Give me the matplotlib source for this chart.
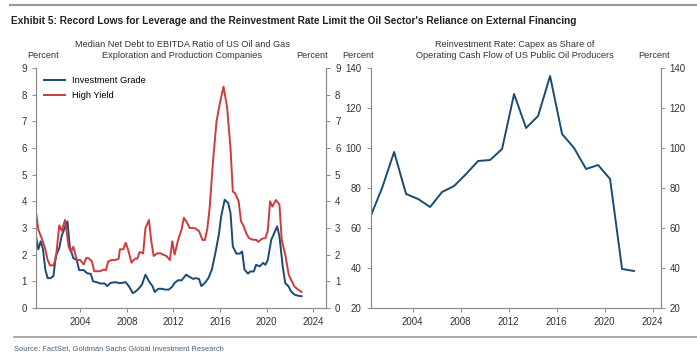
import numpy as np
import matplotlib
matplotlib.use("Agg")
import matplotlib.pyplot as plt
from matplotlib.lines import Line2D

plt.rcParams['font.family'] = ['Liberation Sans', 'DejaVu Sans']

# === data: left panel (quarterly) ===
lev_years = [2000.23, 2000.4, 2000.6, 2000.8, 2001.0, 2001.2, 2001.45, 2001.7, 2001.9,
             2002.2, 2002.4, 2002.7, 2002.9, 2003.1, 2003.4, 2003.7, 2003.9,
             2004.3, 2004.6, 2004.9, 2005.1, 2005.4, 2005.7, 2006.1, 2006.3, 2006.6,
             2007.0, 2007.3, 2007.6, 2007.9, 2008.2, 2008.5, 2008.7, 2009.0, 2009.3,
             2009.6, 2009.9, 2010.2, 2010.4, 2010.7, 2011.0, 2011.3, 2011.6, 2011.9,
             2012.1, 2012.4, 2012.7, 2013.1, 2013.4, 2013.7, 2013.9, 2014.2, 2014.4,
             2014.7, 2015.0, 2015.3, 2015.6, 2015.9, 2016.1, 2016.4, 2016.7, 2016.9,
             2017.1, 2017.4, 2017.7, 2017.9, 2018.1, 2018.4, 2018.6, 2018.9, 2019.1,
             2019.4, 2019.7, 2019.9, 2020.1, 2020.4, 2020.6, 2020.9, 2021.1, 2021.4,
             2021.6, 2021.9, 2022.1, 2022.4, 2022.7, 2023.0]
inv_grade = [2.62, 2.2, 2.5, 2.2, 1.44, 1.12, 1.12, 1.2, 1.95,
             2.25, 2.7, 3.05, 3.25, 2.3, 1.87, 1.8, 1.42,
             1.42, 1.3, 1.28, 1.0, 0.97, 0.92, 0.92, 0.82, 0.94,
             0.97, 0.94, 0.94, 0.97, 0.8, 0.56, 0.6, 0.72, 0.88,
             1.25, 1.0, 0.82, 0.6, 0.72, 0.72, 0.69, 0.69, 0.8,
             0.94, 1.04, 1.04, 1.25, 1.16, 1.09, 1.12, 1.09, 0.82,
             0.94, 1.12, 1.44, 2.06, 2.75, 3.44, 4.06, 3.94, 3.56,
             2.31, 2.04, 2.04, 2.12, 1.44, 1.29, 1.37, 1.37, 1.62,
             1.56, 1.69, 1.62, 1.8, 2.56, 2.75, 3.06, 2.7, 1.5,
             0.94, 0.8, 0.62, 0.5, 0.46, 0.44]

hy_years = [2000.23, 2000.4, 2000.7, 2001.0, 2001.2, 2001.4, 2001.7, 2001.9,
            2002.2, 2002.4, 2002.7, 2003.0, 2003.2, 2003.4, 2003.7, 2004.0,
            2004.3, 2004.5, 2004.7, 2005.0, 2005.2, 2005.5, 2005.7, 2006.0,
            2006.2, 2006.4, 2006.7, 2007.0, 2007.3, 2007.4, 2007.7, 2007.9,
            2008.1, 2008.4, 2008.7, 2008.9, 2009.1, 2009.4, 2009.6, 2009.9,
            2010.1, 2010.3, 2010.6, 2010.9, 2011.1, 2011.4, 2011.7, 2011.9,
            2012.1, 2012.4, 2012.7, 2012.9, 2013.1, 2013.4, 2013.7, 2013.9,
            2014.2, 2014.5, 2014.7, 2014.9, 2015.1, 2015.4, 2015.7, 2016.0,
            2016.3, 2016.6, 2016.9, 2017.1, 2017.3, 2017.6, 2017.8, 2018.0,
            2018.3, 2018.5, 2018.8, 2019.1, 2019.3, 2019.6, 2019.9, 2020.1,
            2020.3, 2020.5, 2020.8, 2021.1, 2021.3, 2021.6, 2021.9, 2022.1,
            2022.4, 2022.7, 2023.0]
high_yield = [3.5, 2.94, 2.6, 2.2, 1.8, 1.6, 1.6, 1.85,
              3.1, 2.9, 3.3, 2.3, 2.1, 2.3, 1.8, 1.8,
              1.63, 1.87, 1.87, 1.75, 1.38, 1.38, 1.38, 1.44,
              1.42, 1.75, 1.8, 1.8, 1.85, 2.2, 2.2, 2.45,
              2.2, 1.7, 1.85, 1.85, 2.1, 2.05, 3.0, 3.3,
              2.5, 1.95, 2.05, 2.05, 2.0, 1.95, 1.8, 2.5,
              2.0, 2.55, 2.95, 3.38, 3.25, 3.0, 3.0, 2.98,
              2.88, 2.55, 2.55, 2.95, 3.7, 5.5, 7.0, 7.7,
              8.3, 7.55, 6.0, 4.37, 4.3, 4.0, 3.25, 3.1,
              2.75, 2.62, 2.56, 2.56, 2.48, 2.6, 2.62, 2.9,
              4.0, 3.8, 4.05, 3.88, 2.55, 2.0, 1.25, 1.06,
              0.8, 0.69, 0.6]

# === data: right panel (annual) ===
reinv_years = [2000.5, 2001.45, 2002.45, 2003.45, 2004.45, 2005.45, 2006.45, 2007.45,
               2008.45, 2009.45, 2010.45, 2011.45, 2012.45, 2013.45, 2014.45, 2015.45,
               2016.45, 2017.45, 2018.45, 2019.45, 2020.45, 2021.45, 2022.45]
reinv_rate = [66, 80, 98, 77, 74.5, 70.5, 78, 81, 87, 93.5, 94, 99.5, 127, 110, 116,
              136, 107, 100, 89.5, 91.5, 84.5, 39.5, 38.5]

navy = '#1b4a72'
red = '#d03a3c'
grey = '#8c8c8c'
txt = '#333333'

fig = plt.figure(figsize=(6.97, 3.58), dpi=100)
W, H = 697, 358


def style(ax, twin):
    ax.spines['top'].set_visible(False)
    twin.spines['top'].set_visible(False)
    for a in (ax, twin):
        for s in ('left', 'right', 'bottom'):
            a.spines[s].set_color(grey)
            a.spines[s].set_linewidth(0.8)
        a.tick_params(axis='both', colors=grey, labelcolor=txt, labelsize=7,
                      length=3, width=0.7, direction='out')
    ax.set_xticks([2004, 2008, 2012, 2016, 2020, 2024])


# === left panel ===
ax1 = fig.add_axes([36 / W, 1 - 308 / H, 290 / W, 240 / H])
ax1.plot(lev_years, inv_grade, color=navy, lw=1.4, label='Investment Grade')
ax1.plot(hy_years, high_yield, color=red, lw=1.4, label='High Yield')
ax1.set_xlim(2000.2, 2025.1)
ax1.set_ylim(0, 9)
ax1.set_yticks(range(0, 10))
t1 = ax1.twinx()
t1.set_ylim(0, 9)
t1.set_yticks(range(0, 10))
style(ax1, t1)
ax1.legend(loc='upper left', frameon=False, fontsize=6.7, handlelength=2.2,
           handletextpad=0.8, borderaxespad=0.5, labelspacing=0.6,
           bbox_to_anchor=(0.0, 1.0))

# === right panel ===
ax2 = fig.add_axes([370.7 / W, 1 - 308 / H, 290 / W, 240 / H])
ax2.plot(reinv_years, reinv_rate, color=navy, lw=1.4)
ax2.set_xlim(2000.5, 2024.67)
ax2.set_ylim(20, 140)
ax2.set_yticks(range(20, 141, 20))
t2 = ax2.twinx()
t2.set_ylim(20, 140)
t2.set_yticks(range(20, 141, 20))
style(ax2, t2)

# === texts ===
fig.add_artist(Line2D([10 / W, 1], [1 - 5 / H] * 2, color='#999999', lw=1.5))
fig.text(11 / W, 1 - 20.5 / H, "Exhibit 5: Record Lows for Leverage and the Reinvestment Rate "
         "Limit the Oil Sector's Reliance on External Financing",
         fontsize=7.3, fontweight='bold', va='center', color='#222222')

fig.text(182 / W, 1 - 50 / H, "Median Net Debt to EBITDA Ratio of US Oil and Gas\n"
         "Exploration and Production Companies", ha='center', va='center',
         fontsize=6.6, color=txt, linespacing=1.25)
fig.text(515 / W, 1 - 50 / H, "Reinvestment Rate: Capex as Share of\n"
         "Operating Cash Flow of US Public Oil Producers", ha='center', va='center',
         fontsize=6.6, color=txt, linespacing=1.25)
for x in (43, 312, 358, 654):
    fig.text(x / W, 1 - 56 / H, "Percent", ha='center', va='center', fontsize=6.6, color=txt)

fig.add_artist(Line2D([14 / W, 1], [1 - 337 / H] * 2, color='#999999', lw=1.2))
fig.text(14 / W, 1 - 348.5 / H, "Source: FactSet, Goldman Sachs Global Investment Research",
         fontsize=5.4, va='center', color='#4a5f7a')

fig.savefig('out.png', dpi=100)
